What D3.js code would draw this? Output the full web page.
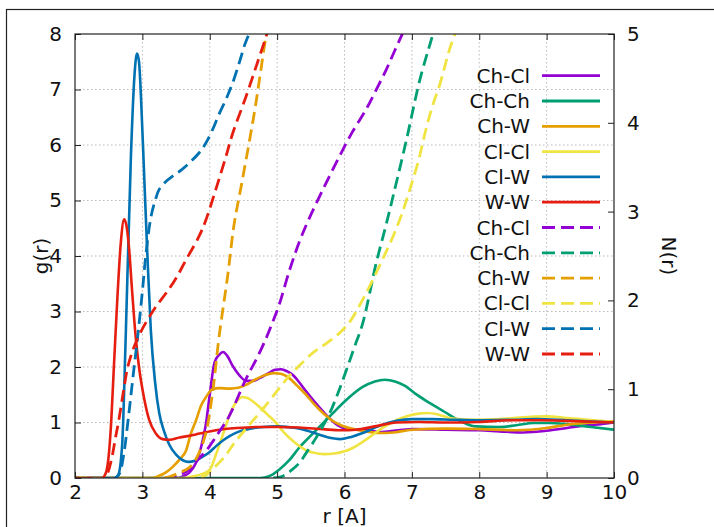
<!DOCTYPE html>
<html>
<head>
<meta charset="utf-8">
<script src="https://cdn.jsdelivr.net/npm/d3@7"></script>
<style>
  body { margin: 0; background: #fff; }
  svg { display: block; font-family: "DejaVu Sans", sans-serif; }
</style>
</head>
<body>
<svg id="chart"></svg>
<script>
// Legend labels / series names (same order as plotted)
const pairs = ["Ch-Cl", "Ch-Ch", "Ch-W", "Cl-Cl", "Cl-W", "W-W"];
const colors = ["#9400d3", "#009e73", "#e69f00", "#f0e442", "#0072b2", "#e51e10"];

// Tick values
const rTicks = [2, 3, 4, 5, 6, 7, 8, 9, 10];
const gTicks = [0, 1, 2, 3, 4, 5, 6, 7, 8];
const nTicks = [0, 1, 2, 3, 4, 5];

// g(r) curves, [r, g]
const gChCl = [[2,0],[3.5,0],[3.6,0.03],[3.7,0.1],[3.79,0.26],[3.87,0.55],[3.94,0.95],[4.0,1.5],[4.07,2.08],[4.14,2.22],[4.2,2.27],[4.26,2.2],[4.34,2.02],[4.44,1.85],[4.54,1.75],[4.64,1.75],[4.74,1.8],[4.86,1.88],[4.97,1.95],[5.06,1.96],[5.15,1.92],[5.23,1.86],[5.33,1.72],[5.43,1.56],[5.55,1.38],[5.68,1.2],[5.8,1.05],[5.93,0.93],[6.05,0.88],[6.17,0.87],[6.35,0.86],[6.52,0.83],[6.8,0.86],[7.03,0.88],[7.5,0.87],[8.0,0.86],[8.3,0.84],[8.65,0.82],[9.0,0.85],[9.3,0.9],[9.6,0.95],[9.81,0.97],[10,1.0]];
const gChCh = [[2,0],[4.75,0],[4.88,0.03],[5.03,0.15],[5.18,0.32],[5.33,0.55],[5.53,0.8],[5.78,1.11],[6.03,1.41],[6.27,1.64],[6.45,1.74],[6.6,1.77],[6.75,1.74],[6.9,1.66],[7.05,1.52],[7.2,1.4],[7.35,1.29],[7.5,1.18],[7.65,1.07],[7.8,0.98],[7.95,0.93],[8.3,0.92],[8.55,0.95],[8.81,0.99],[9.05,0.99],[9.3,0.97],[9.66,0.92],[10,0.87]];
const gChW = [[2,0],[3.15,0],[3.25,0.04],[3.35,0.1],[3.45,0.2],[3.55,0.33],[3.65,0.5],[3.72,0.8],[3.8,1.05],[3.87,1.3],[3.94,1.45],[4.04,1.6],[4.14,1.62],[4.3,1.61],[4.44,1.63],[4.54,1.68],[4.67,1.77],[4.79,1.84],[4.95,1.89],[5.05,1.88],[5.18,1.8],[5.3,1.66],[5.43,1.5],[5.55,1.33],[5.68,1.17],[5.8,1.05],[5.93,0.96],[6.1,0.89],[6.32,0.84],[6.52,0.81],[6.72,0.82],[7.0,0.87],[7.5,0.89],[8.0,0.88],[8.55,0.86],[9.0,0.9],[9.3,0.96],[9.7,1.0],[10,1.02]];
const gClCl = [[2,0],[3.6,0],[3.75,0.03],[3.88,0.07],[4.0,0.15],[4.1,0.45],[4.2,0.8],[4.3,1.15],[4.4,1.38],[4.49,1.46],[4.58,1.43],[4.66,1.36],[4.74,1.28],[4.85,1.15],[4.98,1.0],[5.1,0.82],[5.28,0.62],[5.43,0.5],[5.53,0.46],[5.7,0.43],[5.85,0.44],[6.0,0.48],[6.12,0.54],[6.27,0.65],[6.42,0.78],[6.6,0.93],[6.77,1.04],[6.95,1.12],[7.1,1.16],[7.23,1.17],[7.4,1.14],[7.6,1.07],[7.9,1.05],[8.3,1.06],[8.6,1.09],[9.0,1.11],[9.3,1.08],[9.7,1.04],[10,1.01]];
const gClW = [[2,0],[2.58,0],[2.64,0.05],[2.7,0.6],[2.754,2.6],[2.83,5.8],[2.88,7.2],[2.92,7.65],[2.95,7.5],[2.98,6.85],[3.03,5.35],[3.075,4.0],[3.125,2.67],[3.19,1.71],[3.25,1.17],[3.32,0.85],[3.4,0.6],[3.5,0.42],[3.6,0.32],[3.68,0.29],[3.78,0.31],[3.89,0.38],[4.0,0.47],[4.09,0.57],[4.2,0.68],[4.3,0.76],[4.44,0.84],[4.6,0.89],[4.79,0.92],[5.0,0.93],[5.28,0.9],[5.45,0.85],[5.63,0.78],[5.8,0.72],[5.93,0.7],[6.1,0.74],[6.27,0.81],[6.5,0.93],[6.77,1.03],[7.0,1.06],[7.3,1.06],[7.6,1.05],[8.0,1.04],[8.5,1.05],[8.85,1.06],[9.3,1.04],[10,1.0]];
const gWW = [[2,0],[2.4,0],[2.46,0.1],[2.5,0.4],[2.53,0.87],[2.58,2.07],[2.63,3.27],[2.68,4.24],[2.73,4.66],[2.77,4.5],[2.8,4.17],[2.85,3.33],[2.9,2.55],[2.95,2.0],[3.03,1.41],[3.1,1.05],[3.2,0.8],[3.3,0.7],[3.4,0.69],[3.55,0.73],[3.7,0.76],[3.85,0.8],[4.09,0.86],[4.4,0.9],[4.74,0.92],[5.03,0.92],[5.33,0.91],[5.68,0.88],[5.95,0.86],[6.17,0.87],[6.45,0.93],[6.77,1.0],[7.1,1.01],[7.5,1.0],[8.0,1.01],[8.5,1.04],[8.9,1.04],[9.3,1.03],[10,1.0]];

// N(r) running coordination numbers, [r, N]
const nChCl = [[2,0],[3.45,0],[3.6,0.05],[3.7,0.1],[3.84,0.22],[3.94,0.3],[4.14,0.52],[4.29,0.7],[4.54,1.12],[4.7,1.35],[4.84,1.58],[4.93,1.75],[5.03,1.95],[5.18,2.33],[5.33,2.66],[5.48,2.93],[5.7,3.28],[5.93,3.63],[6.12,3.9],[6.32,4.15],[6.47,4.37],[6.62,4.6],[6.75,4.82],[6.87,5.02],[6.95,5.15]];
const nChCh = [[2,0],[4.95,0],[5.08,0.02],[5.2,0.08],[5.33,0.17],[5.43,0.28],[5.6,0.48],[5.78,0.73],[5.9,0.95],[6.03,1.22],[6.15,1.48],[6.27,1.74],[6.47,2.42],[6.6,2.8],[6.72,3.17],[6.92,3.81],[7.12,4.49],[7.29,4.94],[7.35,5.1]];
const nChW = [[2,0],[3.3,0],[3.42,0.02],[3.55,0.06],[3.7,0.12],[3.82,0.25],[3.94,0.5],[4.04,0.95],[4.14,1.6],[4.27,2.3],[4.36,2.85],[4.47,3.3],[4.59,3.8],[4.67,4.15],[4.74,4.5],[4.84,5.0],[4.88,5.15]];
const nClCl = [[2,0],[3.75,0],[3.94,0.03],[4.04,0.1],[4.2,0.22],[4.39,0.42],[4.59,0.6],[4.79,0.78],[5.0,0.98],[5.18,1.15],[5.35,1.28],[5.53,1.41],[5.7,1.5],[5.88,1.6],[6.07,1.75],[6.25,1.98],[6.42,2.23],[6.57,2.47],[6.72,2.72],[6.85,2.97],[6.97,3.25],[7.1,3.58],[7.21,3.93],[7.31,4.2],[7.41,4.42],[7.56,4.83],[7.64,5.0],[7.68,5.1]];
const nClW = [[2,0],[2.6,0],[2.66,0.05],[2.72,0.25],[2.8,0.73],[2.87,1.2],[2.93,1.59],[3.0,2.1],[3.05,2.5],[3.13,2.95],[3.2,3.15],[3.25,3.25],[3.35,3.34],[3.45,3.4],[3.58,3.47],[3.7,3.55],[3.84,3.66],[3.94,3.77],[4.04,3.92],[4.14,4.1],[4.25,4.28],[4.34,4.45],[4.44,4.68],[4.52,4.88],[4.59,5.02],[4.62,5.1]];
const nWW = [[2,0],[2.43,0],[2.48,0.05],[2.55,0.24],[2.6,0.45],[2.65,0.65],[2.72,0.98],[2.78,1.24],[2.84,1.4],[2.9,1.52],[3.0,1.68],[3.1,1.81],[3.2,1.93],[3.35,2.08],[3.5,2.25],[3.65,2.46],[3.84,2.72],[3.94,2.9],[4.09,3.25],[4.24,3.62],[4.34,3.88],[4.54,4.3],[4.7,4.66],[4.84,4.98],[4.88,5.08]];

const gSeries = [gChCl, gChCh, gChW, gClCl, gClW, gWW];
const nSeries = [nChCl, nChCh, nChW, nClCl, nClW, nWW];

document.addEventListener("DOMContentLoaded", function () {
  const W = 714, H = 527;
  const margin = { top: 34, right: 100, bottom: 49, left: 75 };
  const width = W - margin.left - margin.right;
  const height = H - margin.top - margin.bottom;

  const svg = d3.select("#chart").attr("width", W).attr("height", H);

  // outer frame (runs off the right/bottom edge)
  svg.append("rect")
    .attr("x", 6.5).attr("y", 9.5)
    .attr("width", 800).attr("height", 800)
    .attr("fill", "none").attr("stroke", "#222").attr("stroke-width", 1.2);

  const g = svg.append("g").attr("transform", `translate(${margin.left},${margin.top})`);

  // scales
  const x = d3.scaleLinear().domain([2, 10]).range([0, width]);
  const y = d3.scaleLinear().domain([0, 8]).range([height, 0]);
  const y2 = d3.scaleLinear().domain([0, 5]).range([height, 0]);

  // dotted grid
  g.append("g").selectAll("line").data(gTicks.slice(1, -1)).enter().append("line")
    .attr("x1", 0).attr("x2", width)
    .attr("y1", d => y(d)).attr("y2", d => y(d))
    .attr("stroke", "#bbb").attr("stroke-width", 1).attr("stroke-dasharray", "1.5,2.5");
  g.append("g").selectAll("line").data(rTicks.slice(1, -1)).enter().append("line")
    .attr("y1", 0).attr("y2", height)
    .attr("x1", d => x(d)).attr("x2", d => x(d))
    .attr("stroke", "#bbb").attr("stroke-width", 1).attr("stroke-dasharray", "1.5,2.5");

  // clip
  svg.append("defs").append("clipPath").attr("id", "clip")
    .append("rect").attr("width", width).attr("height", height);

  const lineG = d3.line().x(d => x(d[0])).y(d => y(d[1])).curve(d3.curveMonotoneX);
  const lineN = d3.line().x(d => x(d[0])).y(d => y2(d[1])).curve(d3.curveCatmullRom.alpha(0.5));

  const plot = g.append("g").attr("clip-path", "url(#clip)");

  // g(r) solid
  gSeries.forEach((s, i) => {
    plot.append("path").datum(s)
      .attr("d", lineG)
      .attr("fill", "none")
      .attr("stroke", colors[i])
      .attr("stroke-width", 2.6)
      .attr("stroke-linejoin", "round");
  });
  // N(r) dashed
  nSeries.forEach((s, i) => {
    plot.append("path").datum(s)
      .attr("d", lineN)
      .attr("fill", "none")
      .attr("stroke", colors[i])
      .attr("stroke-width", 2.8)
      .attr("stroke-dasharray", "12,6");
  });

  // axes (ticks pointing inward)
  const fontSize = 20;
  const yAxis = d3.axisLeft(y).tickValues(gTicks).tickSize(-6).tickPadding(13);
  const y2Axis = d3.axisRight(y2).tickValues(nTicks).tickSize(-6).tickPadding(13)
    .tickFormat(d3.format("d"));
  const xAxis = d3.axisBottom(x).tickValues(rTicks).tickSize(-6).tickPadding(7);
  const xTop = d3.axisTop(x).tickValues(rTicks).tickSize(-6).tickFormat("");

  function styleAxis(sel) {
    sel.select(".domain").remove();
    sel.selectAll("line").attr("stroke", "#222").attr("stroke-width", 1);
    sel.selectAll("text").attr("font-size", fontSize).attr("fill", "#111")
      .style("font-family", "DejaVu Sans, sans-serif");
  }

  g.append("g").call(yAxis).call(styleAxis);
  g.append("g").attr("transform", `translate(${width},0)`).call(y2Axis).call(styleAxis);
  g.append("g").attr("transform", `translate(0,${height})`).call(xAxis).call(styleAxis);
  g.append("g").call(xTop).call(styleAxis);

  // border
  g.append("rect").attr("width", width).attr("height", height)
    .attr("fill", "none").attr("stroke", "#222").attr("stroke-width", 1.2);

  // axis titles
  svg.append("text")
    .attr("transform", `translate(41,${margin.top + height / 2}) rotate(-90)`)
    .attr("text-anchor", "middle").attr("dominant-baseline", "central")
    .attr("font-size", fontSize).attr("fill", "#111").text("g(r)");
  svg.append("text")
    .attr("transform", `translate(669,${margin.top + height / 2}) rotate(90)`)
    .attr("text-anchor", "middle").attr("dominant-baseline", "central")
    .attr("font-size", fontSize).attr("fill", "#111").text("N(r)");
  svg.append("text")
    .attr("x", margin.left + width / 2).attr("y", 523)
    .attr("text-anchor", "middle")
    .attr("font-size", fontSize).attr("fill", "#111").text("r [A]");

  // legend: solids then dashed
  const legend = svg.append("g");
  const rows = pairs.map((p, i) => ({ label: p, color: colors[i], dash: null }))
    .concat(pairs.map((p, i) => ({ label: p, color: colors[i], dash: "13,6" })));
  rows.forEach((r, i) => {
    const ly = 75.7 + i * 25.3;
    legend.append("text")
      .attr("x", 530).attr("y", ly)
      .attr("text-anchor", "end").attr("dominant-baseline", "central")
      .attr("font-size", fontSize).attr("fill", "#111").text(r.label);
    legend.append("line")
      .attr("x1", 542).attr("x2", 600).attr("y1", ly).attr("y2", ly)
      .attr("stroke", r.color).attr("stroke-width", 2.8)
      .attr("stroke-dasharray", r.dash);
  });
});
</script>
</body>
</html>
